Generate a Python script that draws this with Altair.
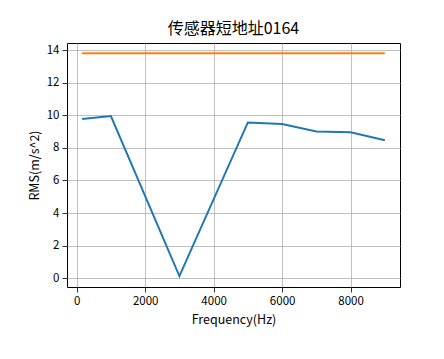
import altair as alt
import pandas as pd

freq = [160, 1000, 3000, 5000, 6000, 7000, 8000, 9000]
rms = [9.77, 9.95, 0.14, 9.56, 9.46, 9.0, 8.96, 8.47]
limit_x = [160, 9000]
limit_y = [13.8, 13.8]

df = pd.concat([
    pd.DataFrame({"f": freq, "v": rms, "s": "rms"}),
    pd.DataFrame({"f": limit_x, "v": limit_y, "s": "limit"}),
])

FONT = "Noto Sans CJK SC"

x = alt.X("f:Q", scale=alt.Scale(domain=[-282, 9442], nice=False, zero=False),
          axis=alt.Axis(values=[0, 2000, 4000, 6000, 8000], format="d", title="Frequency(Hz)"))
y = alt.Y("v:Q", scale=alt.Scale(domain=[-0.53, 14.43], nice=False, zero=False),
          axis=alt.Axis(values=[0, 2, 4, 6, 8, 10, 12, 14], title="RMS(m/s^2)"))

chart = alt.Chart(df).mark_line(strokeWidth=2).encode(
    x=x, y=y,
    color=alt.Color("s:N", scale=alt.Scale(domain=["rms", "limit"], range=["#1f77b4", "#ff7f0e"]), legend=None),
    detail="s:N",
).properties(
    width=333, height=244,
    title=alt.TitleParams("传感器短地址0164", font=FONT, fontSize=16, fontWeight="normal", color="black", offset=6),
    autosize=alt.AutoSizeParams(type="none"),
    padding={"left": 59, "top": 35, "right": 30, "bottom": 60},
).configure_view(
    stroke="black", strokeWidth=1
).configure_axis(
    grid=True, gridColor="#b0b0b0", gridWidth=0.8, gridOpacity=1,
    domain=False, tickColor="black", tickSize=5, tickWidth=0.8,
    labelFont=FONT, labelFontSize=11.5, labelColor="black", labelPadding=3,
    titleFont=FONT, titleFontSize=12.5, titleFontWeight="normal", titleColor="black",
).configure_axisX(titlePadding=7).configure_axisY(titlePadding=5)

chart.save("out.html", embed_options={"renderer": "svg", "actions": False})
